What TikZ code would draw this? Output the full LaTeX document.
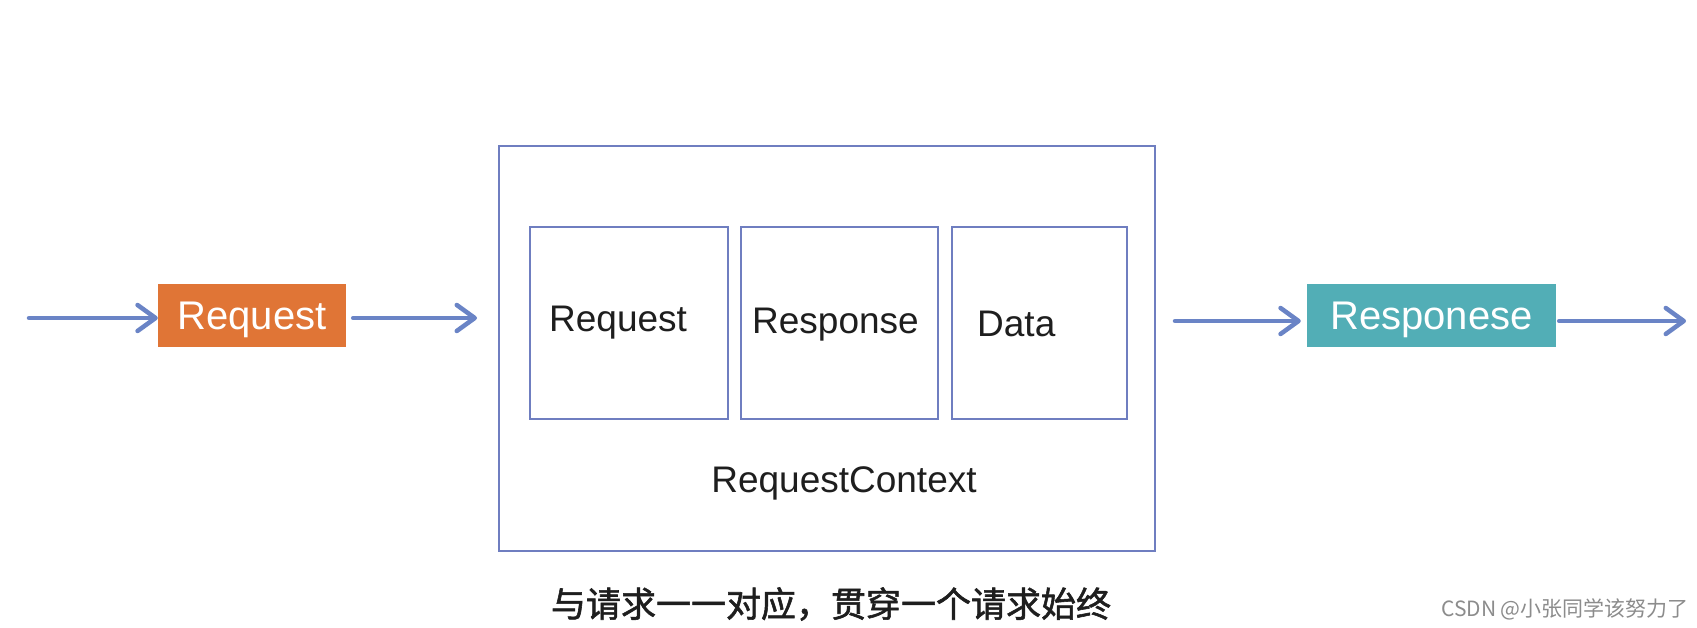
\documentclass[tikz,border=0pt]{standalone}
\usepackage{fontspec}
\setmainfont{Liberation Sans}
\newfontfamily\cjk{Noto Sans CJK SC}
\newfontfamily\cjkheavy{Noto Sans CJK SC}[FakeBold=1.6]
\usetikzlibrary{arrows.meta}
\definecolor{reqorange}{HTML}{E07536}
\definecolor{respteal}{HTML}{52AEB6}
\definecolor{arrowblue}{HTML}{6A84C6}
\definecolor{boxblue}{HTML}{6F7EC0}
\definecolor{textdark}{HTML}{1E1E1E}
\begin{document}
\begin{tikzpicture}[x=1pt,y=-1pt,
  flowbox/.style={rectangle, inner sep=0pt, text=white, text height=27pt, text depth=0pt,
    font=\fontsize{40}{46}\selectfont},
  framebox/.style={rectangle, draw=boxblue, line width=2pt, inner sep=0pt},
  lbl/.style={inner sep=0pt, text=textdark, font=\fontsize{37}{42}\selectfont},
  flow/.style={draw=arrowblue, line width=4.5pt, line cap=round,
    -{Straight Barb[length=18pt,width=26pt,line cap=round,line join=round]}}
]
\useasboundingbox[fill=white] (0,0) rectangle (1697,628);

% main nodes
\node[flowbox, fill=reqorange, minimum width=188pt, minimum height=63pt] (req) at (252,315.5) {Request};
\node[flowbox, fill=respteal, minimum width=249pt, minimum height=63pt] (resp) at (1431.5,315.5) {Responese};
\node[framebox, minimum width=656pt, minimum height=405pt] (ctx) at (827,348.5) {};

% inner boxes
\node[framebox, minimum width=198pt, minimum height=192pt] (breq) at (629,323) {};
\node[framebox, minimum width=197pt, minimum height=192pt] (bresp) at (839.5,323) {};
\node[framebox, minimum width=175pt, minimum height=192pt] (bdata) at (1039.5,323) {};

% inner labels
\node[lbl, anchor=base west] (treq) at (549,331) {Request};
\node[lbl, anchor=base west] (tresp) at (752,334) {Response};
\node[lbl, anchor=base west] (tdata) at (977,336) {Data};
\node[lbl, anchor=base] (tctx) at (844,492) {RequestContext};

% captions
\node[inner sep=0pt, text=textdark, font=\cjkheavy\fontsize{35}{40}\selectfont] (cap) at (831,604) {与请求一一对应，贯穿一个请求始终};
\node[inner sep=0pt, text=black!45, font=\cjk\fontsize{21}{24}\selectfont] (wm) at (1565,609) {CSDN @小张同学该努力了};

% connectors
\coordinate (in) at (29,318);
\coordinate (out) at (1686,321);
\draw[flow] (in) -- (in -| req.west);
\draw[flow, shorten <=7pt, shorten >=21pt] (req.east |- in) -- (in -| ctx.west);
\draw[flow, shorten <=19pt, shorten >=6pt] (ctx.east |- out) -- (out -| resp.west);
\draw[flow, shorten <=3pt] (resp.east |- out) -- (out);
\end{tikzpicture}
\end{document}
